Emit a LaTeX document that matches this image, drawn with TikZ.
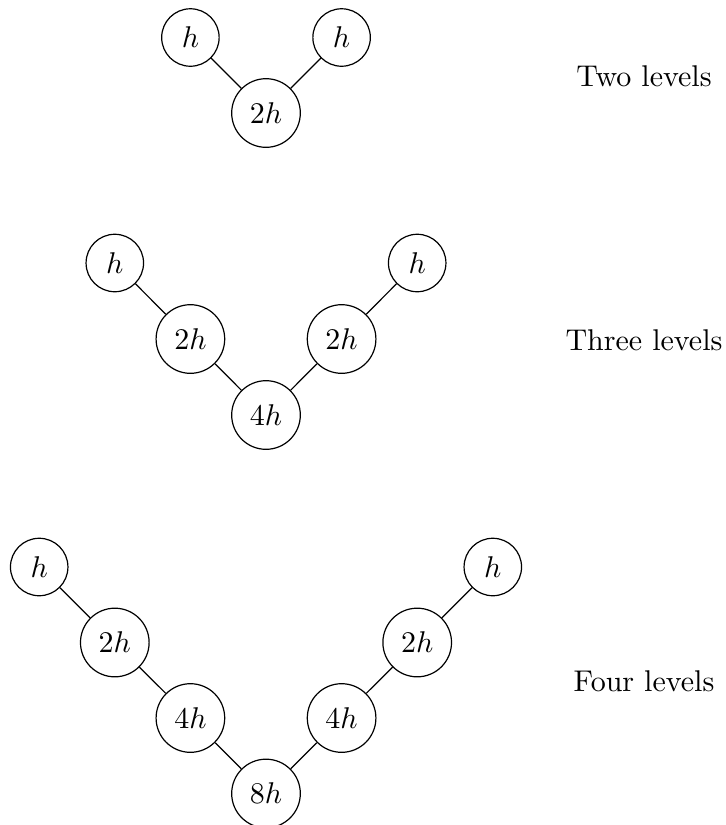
\documentclass[tikz,border=0pt]{standalone}
\begin{document}
\begin{tikzpicture}[x=0.33333pt,y=-0.33333pt,
  vtx/.style={circle,draw,inner sep=3.6pt},
  lvl/.style={inner sep=0pt}]
\useasboundingbox (0,0) rectangle (726,825);
% Two levels
\node[vtx] (a1) at (190.4,37.5) {$h$};
\node[vtx] (a2) at (341.6,37.5) {$h$};
\node[vtx] (a3) at (266,113) {$2h$};
\draw (a1) -- (a3) (a2) -- (a3);
\node[lvl] (la) at (644,76) {Two levels};
% Three levels
\node[vtx] (b1) at (114.8,263) {$h$};
\node[vtx] (b2) at (190.4,339) {$2h$};
\node[vtx] (b3) at (266,415) {$4h$};
\node[vtx] (b4) at (341.6,339) {$2h$};
\node[vtx] (b5) at (417.2,263) {$h$};
\draw (b1) -- (b2) -- (b3) -- (b4) -- (b5);
\node[lvl] (lb) at (644,340) {Three levels};
% Four levels
\node[vtx] (c1) at (39.2,567) {$h$};
\node[vtx] (c2) at (114.8,642.5) {$2h$};
\node[vtx] (c3) at (190.4,718) {$4h$};
\node[vtx] (c4) at (266,793.5) {$8h$};
\node[vtx] (c5) at (341.6,718) {$4h$};
\node[vtx] (c6) at (417.2,642.5) {$2h$};
\node[vtx] (c7) at (492.8,567) {$h$};
\draw (c1) -- (c2) -- (c3) -- (c4) -- (c5) -- (c6) -- (c7);
\node[lvl] (lc) at (644,681) {Four levels};
\end{tikzpicture}
\end{document}
